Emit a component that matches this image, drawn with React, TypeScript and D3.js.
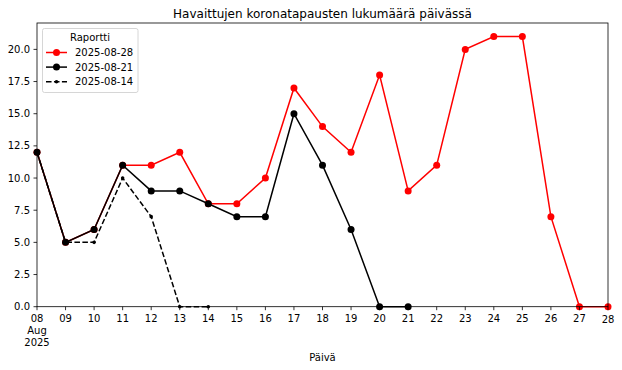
import React from 'react';
import * as d3 from 'd3';

// päivät 08..28 elokuuta 2025
const days = [8, 9, 10, 11, 12, 13, 14, 15, 16, 17, 18, 19, 20, 21, 22, 23, 24, 25, 26, 27, 28];
const dayLabels = ['08', '09', '10', '11', '12', '13', '14', '15', '16', '17', '18', '19', '20', '21', '22', '23', '24', '25', '26', '27', '28'];

const report0828 = [12, 5, 6, 11, 11, 12, 8, 8, 10, 17, 14, 12, 18, 9, 11, 20, 21, 21, 7, 0, 0];
const report0821 = [12, 5, 6, 11, 9, 9, 8, 7, 7, 15, 11, 6, 0, 0, null, null, null, null, null, null, null];
const report0814 = [12, 5, 5, 10, 7, 0, 0, null, null, null, null, null, null, null, null, null, null, null, null, null, null];

const yTicks = [0, 2.5, 5, 7.5, 10, 12.5, 15, 17.5, 20];

const series = [
  { name: '2025-08-28', values: report0828, color: '#ff0000', dash: '', r: 3.5 },
  { name: '2025-08-21', values: report0821, color: '#000000', dash: '', r: 3.5 },
  { name: '2025-08-14', values: report0814, color: '#000000', dash: '5.55,2.4', r: 1.8 },
];

const W = 622;
const H = 370;
const left = 37;
const right = 608;
const top = 23;
const bottom = 306.7;

export default function App() {
  const x = d3.scaleLinear().domain([8, 28]).range([left, right]);
  const y = d3.scaleLinear().domain([0, 22.05]).range([bottom, top]);

  const line = d3
    .line<number | null>()
    .defined((d) => d !== null)
    .x((_, i) => x(days[i]))
    .y((d) => y(d as number));

  const font = 'DejaVu Sans, sans-serif';

  return (
    <svg width={W} height={H} style={{ position: 'absolute', left: 0, top: 0 }} fontFamily={font}>
      <rect width={W} height={H} fill="#fff" />
      <text x={(left + right) / 2} y={18} textAnchor="middle" fontSize={12} fill="#000">
        Havaittujen koronatapausten lukumäärä päivässä
      </text>

      {series.map((s) => (
        <g key={s.name}>
          <path d={line(s.values) || ''} fill="none" stroke={s.color} strokeWidth={1.5} strokeDasharray={s.dash} />
          {s.values.map((v, i) =>
            v === null ? null : <circle key={i} cx={x(days[i])} cy={y(v)} r={s.r} fill={s.color} />
          )}
        </g>
      ))}

      <rect x={left} y={top} width={right - left} height={bottom - top} fill="none" stroke="#000" strokeWidth={0.8} />

      {yTicks.map((t) => (
        <g key={t}>
          <line x1={left - 3.5} x2={left} y1={y(t)} y2={y(t)} stroke="#000" strokeWidth={0.8} />
          <text x={left - 7} y={y(t) + 3.6} textAnchor="end" fontSize={10} fill="#000">
            {t.toFixed(1)}
          </text>
        </g>
      ))}

      {days.map((d, i) => (
        <g key={d}>
          <line x1={x(d)} x2={x(d)} y1={bottom} y2={bottom + 3.5} stroke="#000" strokeWidth={0.8} />
          <text x={x(d)} y={i === days.length - 1 ? 323 : 321.5} textAnchor="middle" fontSize={10} fill="#000">
            {dayLabels[i]}
          </text>
        </g>
      ))}
      <text x={x(8)} y={333.5} textAnchor="middle" fontSize={10} fill="#000">Aug</text>
      <text x={x(8)} y={345.5} textAnchor="middle" fontSize={10} fill="#000">2025</text>

      <text x={(left + right) / 2} y={361} textAnchor="middle" fontSize={10} fill="#000">Päivä</text>

      <g>
        <rect x={42.5} y={28.5} width={95.5} height={64} rx={2} fill="#fff" fillOpacity={0.8} stroke="#ccc" strokeWidth={0.8} />
        <text x={90} y={40.5} textAnchor="middle" fontSize={10} fill="#000">Raportti</text>
        {series.map((s, i) => {
          const ly = 52.5 + i * 14.6;
          return (
            <g key={s.name}>
              <line x1={46} x2={67} y1={ly} y2={ly} stroke={s.color} strokeWidth={1.5} strokeDasharray={s.dash} />
              <circle cx={56.5} cy={ly} r={s.r} fill={s.color} />
              <text x={75} y={ly + 3.6} fontSize={10} fill="#000">{s.name}</text>
            </g>
          );
        })}
      </g>
    </svg>
  );
}
